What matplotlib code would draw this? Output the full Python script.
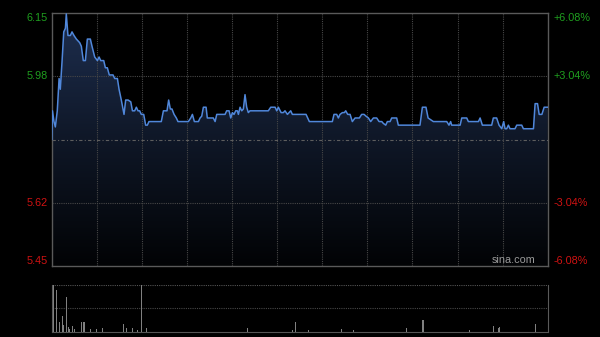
import numpy as np
import matplotlib
matplotlib.use("Agg")
import matplotlib.pyplot as plt
from matplotlib.colors import LinearSegmentedColormap

# intraday (HK session, 330 trading minutes), prices
PREV_CLOSE = 5.80
minute = [0, 0.5, 1.5, 2.4, 3.7, 4.9, 5.7, 6.9, 8.0, 9.1, 9.7, 10.8, 12.4, 13.5,
          14.8, 16.4, 18.6, 19.7, 21.0, 22.4, 23.7, 25.7, 26.8, 28.6, 30.4, 31.5,
          32.6, 34.6, 35.7, 37.0, 38.3, 40.8, 41.9, 43.7, 44.8, 46.3, 48.1, 49.2,
          50.8, 52.6, 53.7, 55.2, 56.3, 57.4, 58.5, 59.6, 61.2, 62.5, 63.6, 64.7,
          72.9, 74.3, 75.6, 76.7, 77.8, 78.9, 80.0, 81.4, 82.9, 84.0, 90.9, 92.5,
          93.6, 94.9, 97.6, 98.7, 99.8, 100.9, 102.7, 103.5, 107.5, 108.7, 109.8,
          115.3, 116.4, 118.0, 119.1, 120.2, 121.3, 122.4, 123.5, 124.2, 125.3,
          126.4, 127.5, 128.6, 129.7, 130.8, 131.9, 144.1, 145.7, 148.6, 149.7,
          150.8, 152.6, 154.1, 155.2, 156.8, 157.9, 159.0, 160.1, 169.2, 171.4,
          186.7, 187.8, 189.6, 190.7, 191.8, 193.4, 194.7, 195.6, 196.9, 198.5,
          200.0, 201.8, 204.7, 206.2, 207.8, 209.1, 210.7, 212.2, 214.0, 216.2,
          217.8, 219.6, 220.6, 222.2, 223.3, 225.1, 226.2, 229.5, 230.6, 245.0,
          246.6, 249.0, 250.4, 253.9, 262.8, 264.3, 265.4, 266.1, 271.7, 272.8,
          276.1, 277.2, 283.9, 285.0, 286.5, 292.7, 293.8, 296.0, 297.6, 299.4,
          300.7, 301.6, 302.7, 303.8, 304.9, 308.2, 309.4, 312.7, 313.8, 320.5,
          321.6, 323.2, 324.3, 326.1, 327.6, 330.0]
price = [5.80, 5.88, 5.85, 5.835, 5.88, 5.97, 5.94, 6.02, 6.10, 6.11, 6.15, 6.09,
         6.09, 6.10, 6.09, 6.08, 6.07, 6.06, 6.02, 6.02, 6.08, 6.08, 6.06, 6.03,
         6.02, 6.03, 6.02, 6.02, 6.00, 6.00, 5.98, 5.98, 5.97, 5.97, 5.94, 5.91,
         5.87, 5.91, 5.91, 5.905, 5.88, 5.88, 5.89, 5.88, 5.88, 5.87, 5.87, 5.84,
         5.84, 5.85, 5.85, 5.88, 5.88, 5.88, 5.91, 5.885, 5.885, 5.87, 5.86, 5.85,
         5.85, 5.86, 5.87, 5.85, 5.85, 5.86, 5.865, 5.89, 5.89, 5.86, 5.86, 5.85,
         5.87, 5.87, 5.88, 5.88, 5.86, 5.875, 5.87, 5.88, 5.88, 5.87, 5.89, 5.88,
         5.885, 5.925, 5.89, 5.875, 5.88, 5.88, 5.89, 5.89, 5.88, 5.89, 5.875,
         5.875, 5.88, 5.87, 5.875, 5.88, 5.87, 5.87, 5.85, 5.85, 5.87, 5.87, 5.86,
         5.87, 5.875, 5.875, 5.88, 5.87, 5.87, 5.85, 5.86, 5.86, 5.87, 5.87, 5.865,
         5.86, 5.85, 5.86, 5.86, 5.85, 5.85, 5.845, 5.84, 5.85, 5.85, 5.86, 5.86,
         5.84, 5.84, 5.89, 5.89, 5.86, 5.85, 5.85, 5.84, 5.85, 5.84, 5.84, 5.86,
         5.86, 5.85, 5.85, 5.86, 5.84, 5.84, 5.86, 5.86, 5.84, 5.83, 5.85, 5.83,
         5.83, 5.84, 5.83, 5.83, 5.84, 5.84, 5.83, 5.83, 5.90, 5.90, 5.87, 5.87,
         5.89, 5.89]

vol_minute = [0, 1, 3, 5, 7, 8, 10, 11, 12, 14, 15, 20, 21, 22, 26, 30, 34, 48,
              50, 54, 57, 60, 63, 130, 160, 162, 171, 193, 201, 236, 247, 278,
              294, 297, 298, 322]
volume = [100, 100, 89, 21, 34, 14, 75, 10, 5, 12, 5, 21, 21, 21, 5, 6, 8, 16,
          7, 7, 4, 100, 8, 8, 4, 21, 4, 6, 4, 8, 25, 4, 12, 7, 10, 16]

pct_levels = [6.08, 3.04, -3.04, -6.08]
left_labels = ["6.15", "5.98", "5.62", "5.45"]
right_labels = ["+6.08%", "+3.04%", "-3.04%", "-6.08%"]

GREEN, RED = "#1f9f1f", "#d01212"
GRID = "#474747"
plt.rcParams["font.family"] = ["Liberation Sans", "DejaVu Sans"]

fig = plt.figure(figsize=(6.0, 3.37), dpi=100, facecolor="black")
ax = fig.add_axes([0.0862, 0.2107, 0.8267, 0.7507], facecolor="black")
axv = fig.add_axes([0.0862, 0.0157, 0.8267, 0.1386], facecolor="black")

ylo = PREV_CLOSE * (1 - pct_levels[0] / 100)
yhi = PREV_CLOSE * (1 + pct_levels[0] / 100)
xmax = 330

# gradient fill under the price line
fill = ax.fill_between(minute, price, ylo, color="none", lw=0)
cmap = LinearSegmentedColormap.from_list("navy", ["#020305", "#0f1727", "#1e2f50"])
grad = np.linspace(1, 0, 256).reshape(-1, 1)
im = ax.imshow(grad, extent=[0, xmax, ylo, yhi], aspect="auto", cmap=cmap,
               origin="upper", zorder=1)
im.set_clip_path(fill.get_paths()[0], transform=ax.transData)

for m in range(30, xmax, 30):
    ax.axvline(m, color=GRID, lw=0.8, ls=(0, (1, 1)), zorder=2)
for p in pct_levels[1:3]:
    ax.axhline(PREV_CLOSE * (1 + p / 100), color=GRID, lw=0.8, ls=(0, (1, 1)), zorder=2)
ax.axhline(PREV_CLOSE, color="#5e5e5e", lw=0.8, ls=(0, (3, 2, 1, 2)), zorder=2)

ax.plot(minute, price, color="#5087da", lw=1.1, zorder=4)

ax.set_xlim(0, xmax)
ax.set_ylim(ylo, yhi)
ax.set_xticks([]); ax.set_yticks([])
for s in ax.spines.values():
    s.set_color("#5a5a5a"); s.set_linewidth(1.0)

for p, lt, rt in zip(pct_levels, left_labels, right_labels):
    y = PREV_CLOSE * (1 + p / 100)
    va = "top" if p == max(pct_levels) else ("bottom" if p == min(pct_levels) else "center")
    col = GREEN if p > 0 else RED
    ax.text(-0.008, y, lt, transform=ax.get_yaxis_transform(), ha="right", va=va,
            color=col, fontsize=7.8)
    ax.text(1.011, y, rt, transform=ax.get_yaxis_transform(), ha="left", va=va,
            color=col, fontsize=7.8)
ax.text(0.976, 0.005, "sina.com", transform=ax.transAxes, ha="right", va="bottom",
        color="#9a9a9a", fontsize=7.8, zorder=5)

# volume panel
axv.bar(vol_minute, volume, width=0.7, color="#808080", zorder=3)
axv.axhline(50, color=GRID, lw=0.8, ls=(0, (1, 1)))
axv.axhline(100, color="#555555", lw=0.8, ls=(0, (1, 1)))
axv.set_xlim(0, xmax)
axv.set_ylim(0, 100)
axv.set_xticks([]); axv.set_yticks([])
axv.spines["top"].set_visible(False)
axv.spines["bottom"].set_color("#555555")
axv.spines["bottom"].set_linestyle((0, (1, 1)))
for side in ("left", "right"):
    axv.spines[side].set_color("#5a5a5a")

fig.savefig("out.png", dpi=100, facecolor="black")
